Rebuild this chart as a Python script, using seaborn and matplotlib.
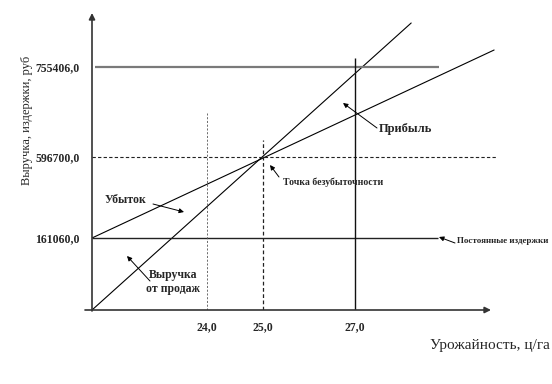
import numpy as np
import pandas as pd
import matplotlib
matplotlib.use("Agg")
import matplotlib.pyplot as plt
import seaborn as sns

# tick values
x_ticks = [24.0, 25.0, 27.0]
y_ticks = [161060.0, 596700.0, 755406.0]

# sales revenue and total costs (schematic end points)
revenue_x = [0.0, 28.24]
revenue_y = [0.0, 894700.0]
costs_x = [0.0, 30.07]
costs_y = [161060.0, 809200.0]

fixed_costs = 161060.0
fixed_end = 28.83
breakeven_x = 25.0
breakeven_y = 596700.0
max_revenue = 755406.0
max_revenue_span = [0.63, 28.85]
yield_24_top = 674300.0
yield_25_top = 626700.0
yield_27_top = 783900.0

# schematic (piecewise linear) axis scales
x_anchor_val = [0.0, 24.0, 25.0, 27.0, 30.2]
x_anchor_pos = [0.0, 115.0, 171.0, 263.0, 408.0]
y_anchor_val = [0.0, 161060.0, 596700.0, 755406.0, 920000.0]
y_anchor_pos = [0.0, 72.0, 153.0, 243.0, 295.0]


def make_scale(vals, pos):
    def fwd(v):
        return np.interp(v, vals, pos)

    def inv(p):
        return np.interp(p, pos, vals)
    return fwd, inv


sns.set_theme(style="white")
plt.rcParams['font.family'] = ['Liberation Serif', 'DejaVu Serif']

fig = plt.figure(figsize=(5.52, 3.84), dpi=100)
ax = fig.add_axes([92 / 552, 74 / 384, 408 / 552, 295 / 384])
ax.set_xscale('function', functions=make_scale(x_anchor_val, x_anchor_pos))
ax.set_yscale('function', functions=make_scale(y_anchor_val, y_anchor_pos))

lines = pd.DataFrame({
    'x': revenue_x + costs_x,
    'y': revenue_y + costs_y,
    'kind': ['revenue'] * 2 + ['costs'] * 2,
})
sns.lineplot(data=lines, x='x', y='y', hue='kind', palette=['black', 'black'],
             linewidth=0.8, legend=False, ax=ax, estimator=None, sort=False)

ax.hlines(max_revenue, *max_revenue_span, color='#7a7a7a', lw=1.6)
ax.hlines(breakeven_y, 0, 30.13, color='#222222', lw=0.8, linestyles=(0, (3, 2)))
ax.hlines(fixed_costs, 0, fixed_end, color='#222222', lw=1.0)
ax.vlines(24.0, 0, yield_24_top, color='#555555', lw=0.6, linestyles=(0, (2.5, 2)))
ax.vlines(breakeven_x, 0, yield_25_top, color='#222222', lw=0.9, linestyles=(0, (3, 2)))
ax.vlines(27.0, 0, yield_27_top, color='#111111', lw=1.0)

ax.set_xlim(0, 30.2)
ax.set_ylim(0, 920000)
ax.set_xlabel('')
ax.set_ylabel('')
for s in ax.spines.values():
    s.set_visible(False)

ax.set_xticks(x_ticks)
ax.set_xticklabels([f"{v:.1f}".replace('.', ',') for v in x_ticks])
ax.set_yticks(y_ticks)
ax.set_yticklabels([f"{v:.1f}".replace('.', ',') for v in y_ticks])
ax.tick_params(axis='x', length=0, pad=8, labelsize=8.5)
ax.tick_params(axis='y', length=0, pad=9, labelsize=8.5)
for lab in ax.get_xticklabels() + ax.get_yticklabels():
    lab.set_fontweight('bold')
ax.grid(False)


def P(x, y):
    # figure pixel position measured from the top-left corner
    return (x, 384 - y)


axis_arrow = dict(arrowstyle='-|>', color='#333333', lw=1.2, mutation_scale=9,
                  shrinkA=0, shrinkB=0)
ax.annotate('', xy=P(491, 310), xytext=P(85, 310), xycoords='figure pixels',
            arrowprops=axis_arrow, annotation_clip=False)
ax.annotate('', xy=P(92, 13), xytext=P(92, 311), xycoords='figure pixels',
            arrowprops=axis_arrow, annotation_clip=False)

pointer = dict(arrowstyle='-|>', color='black', lw=0.7, mutation_scale=7,
               shrinkA=0, shrinkB=0)
arrows = [
    ((377, 128), (343, 103)),
    ((279, 177), (270, 165)),
    ((153, 204), (184, 212)),
    ((150, 281), (127, 256)),
    ((455, 243), (439, 237)),
]
for start, end in arrows:
    ax.annotate('', xy=P(*end), xytext=P(*start), xycoords='figure pixels',
                arrowprops=pointer, annotation_clip=False)

fig.text(379 / 552, 1 - 129 / 384, 'Прибыль', ha='left', va='center',
         fontsize=9, fontweight='bold')
fig.text(283 / 552, 1 - 182 / 384, 'Точка безубыточности', ha='left', va='center',
         fontsize=7, fontweight='bold')
fig.text(146 / 552, 1 - 200 / 384, 'Убыток', ha='right', va='center',
         fontsize=8.5, fontweight='bold')
fig.text(173 / 552, 1 - 282 / 384, 'Выручка\nот продаж', ha='center', va='center',
         fontsize=8.5, fontweight='bold', linespacing=1.15)
fig.text(457 / 552, 1 - 241 / 384, 'Постоянные издержки', ha='left', va='center',
         fontsize=6.5, fontweight='bold')
fig.text(550 / 552, 1 - 346 / 384, 'Урожайность, ц/га', ha='right', va='center',
         fontsize=11)
fig.text(27 / 552, 1 - 120 / 384, 'Выручка, издержки, руб', ha='center', va='center',
         rotation=90, fontsize=9)

fig.savefig('out.png', dpi=100)
